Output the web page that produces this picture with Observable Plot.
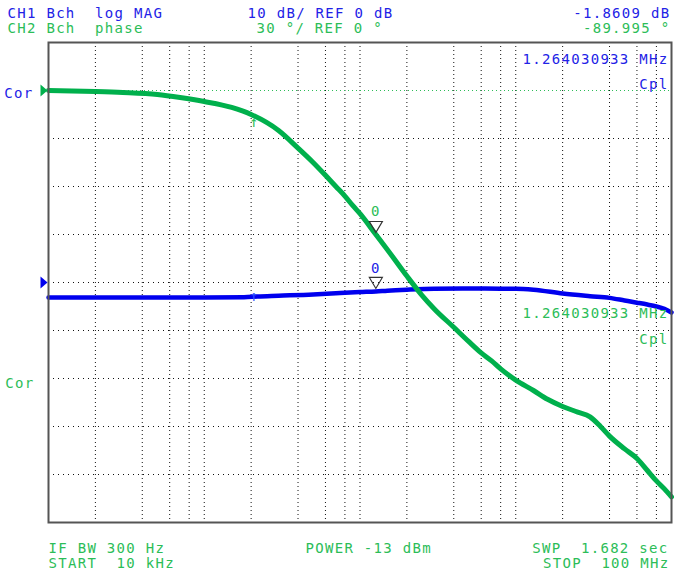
<!DOCTYPE html>
<html><head><meta charset="utf-8">
<script src="https://cdn.jsdelivr.net/npm/d3@7"></script>
<script src="https://cdn.jsdelivr.net/npm/@observablehq/plot@0.6"></script>
<style>body{margin:0;background:#fff}</style>
</head><body><div id="chart"></div>
<script>
// CH2 phase trace (green), degrees vs frequency (Hz)
const phaseFreq = [1e4, 2e4, 3e4, 5e4, 7e4, 1e5, 1.5e5, 2e5, 3e5, 4e5, 5e5, 6e5, 7e5, 8e5, 9e5, 1e6, 1.264e6, 1.5e6, 2e6, 2.5e6, 3e6, 4e6, 5e6, 6e6, 7e6, 8e6, 1e7, 1.3e7, 1.6e7, 2e7, 2.5e7, 3e7, 3.5e7, 4e7, 5e7, 6e7, 7e7, 8e7, 9e7, 1e8];
const phaseDeg  = [0, -0.6, -1.2, -2.5, -4.4, -6.9, -10.6, -15, -25, -36, -45, -53, -60, -66, -72, -77, -90, -99.5, -116, -128, -136.5, -148, -157, -164, -169, -174, -181, -187.5, -193, -197.5, -201, -204, -210, -216, -224, -230, -237.5, -244, -249, -254];
// CH1 log MAG trace (blue), dB vs frequency (Hz)
const magFreq = [1e4, 1e5, 1.8e5, 2.2e5, 3e5, 5e5, 7e5, 1e6, 1.264e6, 1.5e6, 2e6, 3e6, 5e6, 8e6, 1e7, 1.3e7, 2e7, 3e7, 4e7, 5e7, 6e7, 7e7, 8e7, 9e7, 1e8];
const magDb   = [-3.1, -3.1, -3.05, -2.9, -2.75, -2.5, -2.25, -2.0, -1.86, -1.7, -1.5, -1.3, -1.25, -1.3, -1.3, -1.5, -2.3, -2.85, -3.2, -3.75, -4.2, -4.6, -5.0, -5.5, -6.25];

const markerFreq = [1.264030933e6];
const markerMagDb = [-1.8609];
const markerPhase = [-89.995];
const refArrowFreq = [2.1e5];

const gridDecades = [1e4, 1e5, 1e6, 1e7];
const gridMultipliers = [2, 4, 6, 8, 10];
const phaseGrid = [-30, -60, -90, -120, -150, -180, -210, -240];
const phaseRefDeg = 0;
const magRefPos = -120;      // 0 dB reference sits at the 5th division
const degPerDb = 3;          // 10 dB/div vs 30 °/div

const header1 = ["CH1 Bch  log MAG", "10 dB/ REF 0 dB", "-1.8609 dB"];
const header2 = ["CH2 Bch  phase", "30 °/ REF 0 °", "-89.995 °"];
const footer1 = ["IF BW 300 Hz", "POWER -13 dBm", "SWP  1.682 sec"];
const footer2 = ["START  10 kHz", "STOP  100 MHz"];
const readout = "1.264030933 MHz";

const GREEN = "#00b04c", BLUE = "#0000ee";
const GREEN_T = "#2cbd58", BLUE_T = "#2222e6";

const phaseData = phaseFreq.map((f, i) => ({f, v: phaseDeg[i]}));
const magData = magFreq.map((f, i) => ({f, v: magRefPos + degPerDb * magDb[i]}));
const gridX = gridDecades.flatMap(d => gridMultipliers.map(m => d * m)).filter(v => v < 1e8);

const triDown = {draw(ctx) { ctx.moveTo(-6.5, -11); ctx.lineTo(6.5, -11); ctx.lineTo(0, 0); ctx.closePath(); }};
const triRight = {draw(ctx) { ctx.moveTo(-7, -6); ctx.lineTo(0, 0); ctx.lineTo(-7, 6); ctx.closePath(); }};

const FONT = "DejaVu Sans Mono";
const txt = (s, o) => Plot.text([s], {text: d => d, fontFamily: FONT, fontSize: 14, lineAnchor: "bottom", ...o});

const chart = Plot.plot({
  width: 674, height: 574,
  marginLeft: 48, marginRight: 3, marginTop: 42, marginBottom: 52,
  style: "font-family: 'DejaVu Sans Mono', monospace; font-size: 14px; letter-spacing: 1.3px; white-space: pre; background: #fff;",
  x: {type: "log", domain: [1e4, 1e8], axis: null},
  y: {domain: [-270, 30], axis: null},
  marks: [
    Plot.ruleX(gridX, {stroke: "#111", strokeDasharray: "1,3", strokeWidth: 1}),
    Plot.ruleY(phaseGrid, {stroke: "#111", strokeDasharray: "1,4", strokeWidth: 1}),
    Plot.ruleY([phaseRefDeg], {stroke: GREEN_T, strokeDasharray: "1,3", strokeWidth: 1}),
    Plot.line(magData, {x: "f", y: "v", stroke: BLUE, strokeWidth: 4.5, strokeLinejoin: "round", curve: "monotone-x"}),
    Plot.text(["↑"], {x: () => refArrowFreq[0], y: () => magRefPos + degPerDb * -2.95, text: d => d, fontFamily: FONT, fontSize: 15, lineAnchor: "top", dy: -6, fill: "#3355ff"}),
    Plot.line(phaseData, {x: "f", y: "v", stroke: GREEN, strokeWidth: 5, strokeLinejoin: "round", curve: "monotone-x"}),
    Plot.frame({stroke: "#555", strokeWidth: 2}),
    // left reference triangles
    Plot.dot([phaseRefDeg], {x: () => 1e4, y: d => d, symbol: triRight, fill: GREEN, stroke: "none", dx: -1}),
    Plot.dot([magRefPos], {x: () => 1e4, y: d => d, symbol: triRight, fill: BLUE, stroke: "none", dx: -1}),
    txt("Cor", {x: () => 1e4, y: () => phaseRefDeg, textAnchor: "end", dx: -15, dy: 7, fill: BLUE_T}),
    txt("Cor", {x: () => 1e4, y: () => -180, textAnchor: "end", dx: -14, dy: 9, fill: GREEN_T}),
    // markers
    Plot.dot(markerPhase, {x: () => markerFreq[0], y: d => d, symbol: triDown, stroke: "#333", fill: "none", strokeWidth: 1.2, dy: -2}),
    Plot.dot(markerMagDb, {x: () => markerFreq[0], y: d => magRefPos + degPerDb * d, symbol: triDown, stroke: "#333", fill: "none", strokeWidth: 1.2, dy: -3}),
    txt("0", {x: () => markerFreq[0], y: () => markerPhase[0], dy: -18, fill: GREEN_T}),
    txt("0", {x: () => markerFreq[0], y: () => magRefPos + degPerDb * markerMagDb[0], dy: -18, fill: BLUE_T}),
    Plot.text(["↑"], {x: () => refArrowFreq[0], y: () => -15.5, text: d => d, fontFamily: FONT, fontSize: 15, lineAnchor: "top", dy: 1, fill: GREEN_T}),
    // readouts inside the grid
    txt(readout, {frameAnchor: "top-right", textAnchor: "end", dx: -3, dy: 21, fill: BLUE_T}),
    txt("Cpl", {frameAnchor: "top-right", textAnchor: "end", dx: -3, dy: 46, fill: BLUE_T}),
    txt(readout, {frameAnchor: "right", textAnchor: "end", dx: -3, dy: 35, fill: GREEN_T}),
    txt("Cpl", {frameAnchor: "right", textAnchor: "end", dx: -3, dy: 61, fill: GREEN_T}),
    // header
    txt(header1[0], {frameAnchor: "top-left", textAnchor: "start", dx: -41, dy: -25, fill: BLUE_T}),
    txt(header1[1], {frameAnchor: "top-left", textAnchor: "start", dx: 199, dy: -25, fill: BLUE_T}),
    txt(header1[2], {frameAnchor: "top-right", textAnchor: "end", dx: -1, dy: -25, fill: BLUE_T}),
    txt(header2[0], {frameAnchor: "top-left", textAnchor: "start", dx: -41, dy: -10, fill: GREEN_T}),
    txt(header2[1], {frameAnchor: "top-left", textAnchor: "start", dx: 208, dy: -10, fill: GREEN_T}),
    txt(header2[2], {frameAnchor: "top-right", textAnchor: "end", dx: -1, dy: -10, fill: GREEN_T}),
    // footer
    txt(footer1[0], {frameAnchor: "bottom-left", textAnchor: "start", dx: 0, dy: 30, fill: GREEN_T}),
    txt(footer1[1], {frameAnchor: "bottom-left", textAnchor: "start", dx: 257, dy: 30, fill: GREEN_T}),
    txt(footer1[2], {frameAnchor: "bottom-right", textAnchor: "end", dx: -3, dy: 30, fill: GREEN_T}),
    txt(footer2[0], {frameAnchor: "bottom-left", textAnchor: "start", dx: 0, dy: 45, fill: GREEN_T}),
    txt(footer2[1], {frameAnchor: "bottom-right", textAnchor: "end", dx: -2, dy: 45, fill: GREEN_T})
  ]
});
document.getElementById("chart").append(chart);
</script>
</body></html>
